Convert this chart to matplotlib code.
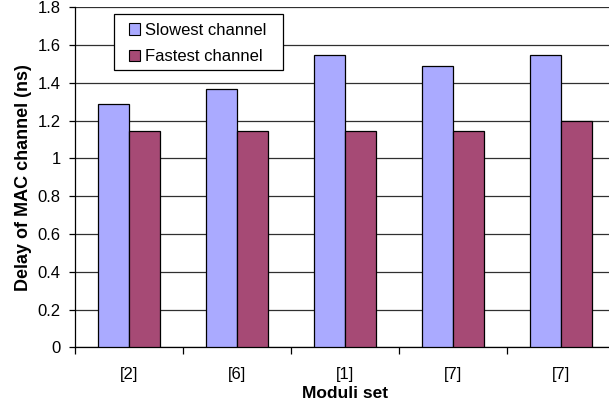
import matplotlib
matplotlib.use("Agg")
import matplotlib.pyplot as plt
import numpy as np
from matplotlib.patches import Rectangle
from matplotlib.ticker import FixedLocator, NullFormatter

plt.rcParams['font.family'] = ['Liberation Sans', 'DejaVu Sans']

categories = ['[2]', '[6]', '[1]', '[7]', '[7]']
slowest = [1.29, 1.37, 1.55, 1.49, 1.55]
fastest = [1.145, 1.145, 1.145, 1.145, 1.20]
y_ticks = [0, 0.2, 0.4, 0.6, 0.8, 1, 1.2, 1.4, 1.6, 1.8]
y_tick_labels = ['0', '0.2', '0.4', '0.6', '0.8', '1', '1.2', '1.4', '1.6', '1.8']

W, H = 609, 409
fig = plt.figure(figsize=(W / 100, H / 100), dpi=100)
left, right, bottom, top = 74.7, 615.0, 347.3, 7.3
ax = fig.add_axes([left / W, (H - bottom) / H, (right - left) / W, (bottom - top) / H])

x = np.arange(len(categories))
bw = 0.285
c_slow = '#AAAAFF'
c_fast = '#A64A75'
ax.bar(x - bw / 2, slowest, bw, color=c_slow, edgecolor='black', linewidth=0.9,
       label='Slowest channel', zorder=3)
ax.bar(x + bw / 2, fastest, bw, color=c_fast, edgecolor='black', linewidth=0.9,
       label='Fastest channel', zorder=3)

ax.set_xlim(-0.5, len(categories) - 0.5)
ax.set_ylim(0, 1.8)
ax.set_yticks(y_ticks)
ax.set_yticklabels(y_tick_labels, fontsize=12)
ax.yaxis.grid(True, color='#303030', linewidth=0.9, zorder=0)
ax.set_axisbelow(True)

ax.set_xticks(x)
ax.set_xticklabels(categories, fontsize=12)
ax.tick_params(axis='x', which='major', length=0, pad=14)
ax.xaxis.set_minor_locator(FixedLocator(np.arange(-0.5, len(categories), 1.0)))
ax.xaxis.set_minor_formatter(NullFormatter())
ax.tick_params(axis='x', which='minor', length=5, width=0.9, color='black')
ax.tick_params(axis='y', length=4, width=0.9, color='black', pad=6)

for s in ['top', 'right']:
    ax.spines[s].set_visible(False)
for s in ['left', 'bottom']:
    ax.spines[s].set_color('black')
    ax.spines[s].set_linewidth(0.9)

ax.set_xlabel('Moduli set', fontsize=12.5, fontweight='bold', labelpad=3)
ax.set_ylabel('Delay of MAC channel (ns)', fontsize=13, fontweight='bold', labelpad=4)

# legend box drawn explicitly so its padding can be set in pixels
box_l, box_r, box_t, box_b = 114, 283, 14, 70
ax.add_patch(Rectangle((box_l / W, (H - box_b) / H), (box_r - box_l) / W, (box_b - box_t) / H,
                       transform=fig.transFigure, facecolor='white', edgecolor='black',
                       linewidth=0.9, zorder=6, clip_on=False))
leg = ax.legend(loc='upper left',
                bbox_to_anchor=((129 - left) / (right - left), (bottom - 23) / (bottom - top)),
                fontsize=12, frameon=False,
                handlelength=0.64, handleheight=0.68, handletextpad=0.3, labelspacing=0.68,
                borderpad=0.0, borderaxespad=0)
leg.set_zorder(7)
for h in leg.legend_handles:
    h.set_linewidth(0.8)

fig.savefig('out.png', dpi=100)
